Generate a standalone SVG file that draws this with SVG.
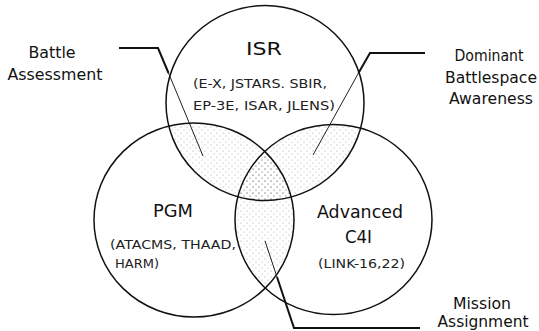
<svg xmlns="http://www.w3.org/2000/svg" width="539" height="331" viewBox="0 0 539 331">
  <style>
    .ring { fill: none; stroke: #111; stroke-width: 1.5; }
    .lead { fill: none; stroke: #111; stroke-width: 2; stroke-linejoin: miter; }
    .lead-thin { fill: none; stroke: #222; stroke-width: 1; }
    .title { font-family: "DejaVu Sans", "Liberation Sans", sans-serif; font-size: 18px; fill: #111; }
    .sub { font-family: "DejaVu Sans", "Liberation Sans", sans-serif; font-size: 13px; fill: #222; }
    .label { font-family: "DejaVu Sans", "Liberation Sans", sans-serif; font-size: 16px; fill: #111; text-anchor: middle; }
  </style>
  <defs>
    <!-- light stipple used for the overlap areas -->
    <pattern id="stipple" width="6" height="6" patternUnits="userSpaceOnUse">
      <circle cx="1" cy="1" r="0.55" fill="#9a9a9a"/>
      <circle cx="4" cy="4" r="0.55" fill="#b0b0b0"/>
    </pattern>
    <clipPath id="clip-isr"><ellipse cx="265" cy="103" rx="99" ry="97.5"/></clipPath>
    <clipPath id="clip-pgm"><ellipse cx="194" cy="220" rx="100" ry="97"/></clipPath>
  </defs>

  <rect width="539" height="331" fill="#fff"/>

  <!-- overlap shading -->
  <g id="overlaps">
    <g clip-path="url(#clip-isr)">
      <ellipse cx="194" cy="220" rx="100" ry="97" fill="url(#stipple)"/>
      <ellipse cx="333.5" cy="219.5" rx="98.5" ry="95" fill="url(#stipple)"/>
    </g>
    <g clip-path="url(#clip-pgm)">
      <ellipse cx="333.5" cy="219.5" rx="98.5" ry="95" fill="url(#stipple)"/>
    </g>
  </g>

  <g id="isr">
    <ellipse class="ring" cx="265" cy="103" rx="99" ry="97.5"/>
    <text class="title" x="264" y="55" text-anchor="middle" textLength="36" lengthAdjust="spacingAndGlyphs">ISR</text>
    <text class="sub" x="193" y="88" textLength="134" lengthAdjust="spacingAndGlyphs">(E-X, JSTARS. SBIR,</text>
    <text class="sub" x="193" y="110" textLength="142" lengthAdjust="spacingAndGlyphs">EP-3E, ISAR, JLENS)</text>
  </g>

  <g id="pgm">
    <ellipse class="ring" cx="194" cy="220" rx="100" ry="97"/>
    <text class="title" x="153" y="217" textLength="40" lengthAdjust="spacingAndGlyphs">PGM</text>
    <text class="sub" x="110" y="249" textLength="126" lengthAdjust="spacingAndGlyphs">(ATACMS, THAAD,</text>
    <text class="sub" x="115" y="268" textLength="44" lengthAdjust="spacingAndGlyphs">HARM)</text>
  </g>

  <g id="c4i">
    <ellipse class="ring" cx="333.5" cy="219.5" rx="98.5" ry="95"/>
    <text class="title" x="317" y="218" textLength="86" lengthAdjust="spacingAndGlyphs">Advanced</text>
    <text class="title" x="345" y="243" textLength="27" lengthAdjust="spacingAndGlyphs">C4I</text>
    <text class="sub" x="318" y="268" textLength="87" lengthAdjust="spacingAndGlyphs">(LINK-16,22)</text>
  </g>

  <g id="connectors">
    <polyline class="lead" points="119,48 158,48 168.5,73"/>
    <line class="lead-thin" x1="168.5" y1="73" x2="203" y2="156"/>
    <polyline class="lead" points="425,53 370,53 358.5,73"/>
    <line class="lead-thin" x1="358.5" y1="73" x2="313" y2="155"/>
    <polyline class="lead" points="420,328 294,328 277,277"/>
    <line class="lead-thin" x1="277" y1="277" x2="265" y2="241"/>
  </g>

  <g id="battle-assessment">
    <text class="label" x="52" y="58" textLength="47" lengthAdjust="spacingAndGlyphs">Battle</text>
    <text class="label" x="55" y="80" textLength="95" lengthAdjust="spacingAndGlyphs">Assessment</text>
  </g>

  <g id="dominant-awareness">
    <text class="label" x="489" y="61" textLength="69" lengthAdjust="spacingAndGlyphs">Dominant</text>
    <text class="label" x="491" y="83" textLength="92" lengthAdjust="spacingAndGlyphs">Battlespace</text>
    <text class="label" x="491" y="104" textLength="84" lengthAdjust="spacingAndGlyphs">Awareness</text>
  </g>

  <g id="mission-assignment">
    <text class="label" x="482" y="309" textLength="58" lengthAdjust="spacingAndGlyphs">Mission</text>
    <text class="label" x="483" y="327" textLength="91" lengthAdjust="spacingAndGlyphs">Assignment</text>
  </g>
</svg>
